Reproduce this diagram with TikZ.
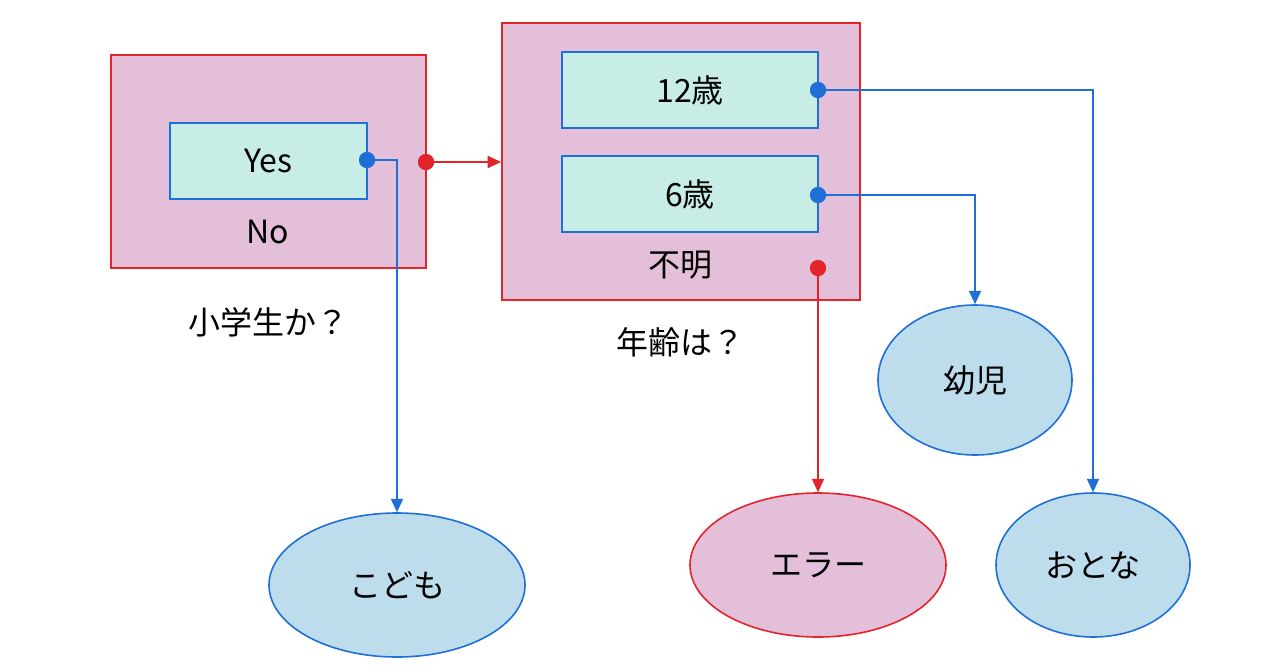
\documentclass[tikz,border=0pt]{standalone}
\usepackage{fontspec}
\setmainfont{Noto Sans CJK JP}
\usetikzlibrary{arrows.meta,shapes.geometric}
\definecolor{pinkf}{HTML}{E3BFD9}
\definecolor{tealf}{HTML}{C8ECE6}
\definecolor{bluef}{HTML}{BDDDED}
\definecolor{redl}{HTML}{E3242B}
\definecolor{bluel}{HTML}{1F6FD6}
\begin{document}
\begin{tikzpicture}[x=0.75pt,y=-0.75pt,
  font=\fontsize{24}{28}\selectfont,
  inner/.style={draw=bluel,fill=tealf,line width=1.2pt,minimum width=256*0.75pt,minimum height=76*0.75pt},
  ell/.style={ellipse,draw=bluel,fill=bluef,line width=1.2pt},
  barr/.style={draw=bluel,line width=1.3pt,-{Triangle[length=10pt,width=9pt]}},
  rarr/.style={draw=redl,line width=1.3pt,-{Triangle[length=10pt,width=9pt]}},
  bdot/.style={circle,fill=bluel,inner sep=0pt,minimum size=12pt},
  rdot/.style={circle,fill=redl,inner sep=0pt,minimum size=12pt}]
\useasboundingbox (0,0) rectangle (1280,671);
\node[draw=redl,fill=pinkf,line width=1.4pt,minimum width=315*0.75pt,minimum height=213*0.75pt] (b1) at (268.5,161.5) {};
\node[inner,minimum width=197*0.75pt] (yes) at (268.5,161) {Yes};
\node (no) at (268,232) {No};
\node (q1) at (268,322) {小学生か？};
\node[draw=redl,fill=pinkf,line width=1.4pt,minimum width=358*0.75pt,minimum height=277*0.75pt] (b2) at (681,161.5) {};
\node[inner] (a12) at (690,90) {12歳};
\node[inner] (a6) at (690,194) {6歳};
\node (unk) at (680,265) {不明};
\node (q2) at (680,342) {年齢は？};
\node[ell,minimum width=256*0.75pt,minimum height=144*0.75pt] (kodomo) at (397,585) {こども};
\node[ellipse,draw=redl,fill=pinkf,line width=1.2pt,minimum width=256*0.75pt,minimum height=144*0.75pt] (err) at (818,565) {エラー};
\node[ell,minimum width=194*0.75pt,minimum height=150*0.75pt] (yoji) at (975,380) {幼児};
\node[ell,minimum width=194*0.75pt,minimum height=144*0.75pt] (otona) at (1093,565) {おとな};
\node[bdot] (d1) at (367,160) {};
\node[rdot] (d2) at (426,162) {};
\node[bdot] (d3) at (818,90) {};
\node[bdot] (d4) at (818,195) {};
\node[rdot] (d5) at (818,268) {};
\draw[barr] (d1.center) -| (kodomo.north);
\draw[rarr] (d2.center) -- (b2.west |- d2);
\draw[barr] (d3.center) -| (otona.north);
\draw[barr] (d4.center) -| (yoji.north);
\draw[rarr] (d5.center) -- (err.north);
\node[bdot] at (d1) {};
\node[rdot] at (d2) {};
\node[bdot] at (d3) {};
\node[bdot] at (d4) {};
\node[rdot] at (d5) {};
\end{tikzpicture}
\end{document}
